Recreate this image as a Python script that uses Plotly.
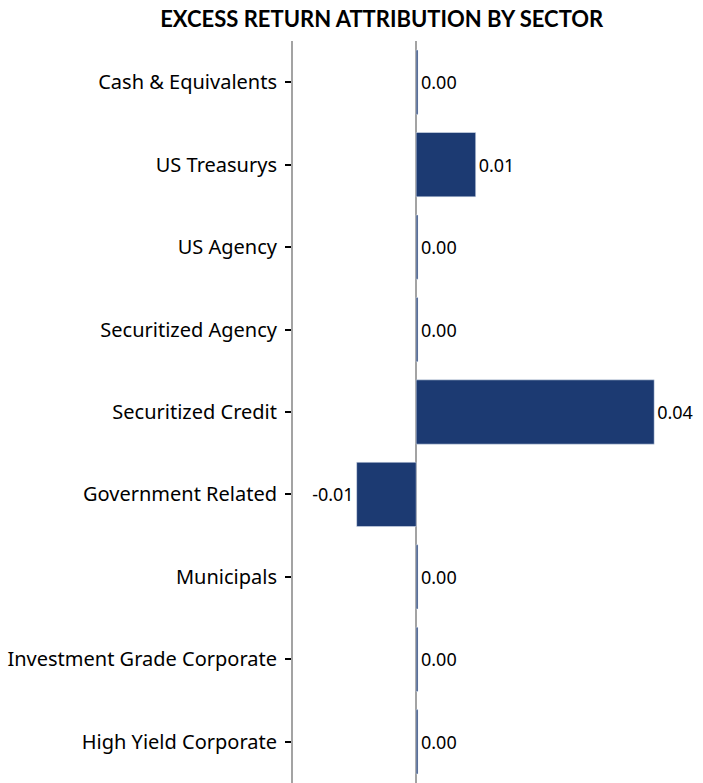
import plotly.graph_objects as go

# Sector excess-return attribution (percentage points)
sectors = [
    "Cash & Equivalents",
    "US Treasurys",
    "US Agency",
    "Securitized Agency",
    "Securitized Credit",
    "Government Related",
    "Municipals",
    "Investment Grade Corporate",
    "High Yield Corporate",
]
excess_return = [0.0003, 0.01, 0.0003, 0.0003, 0.04, -0.01, 0.0003, 0.0003, 0.0003]

BAR_COLOR = "#1c3a72"
AXIS_GRAY = "#a3a3a3"
TEXT_FONT = "Noto Sans, sans-serif"

fig = go.Figure(
    go.Bar(
        x=excess_return,
        y=sectors,
        orientation="h",
        marker=dict(color=BAR_COLOR),
        texttemplate="%{x:.2f}",
        textposition="outside",
        constraintext="none",
        textfont=dict(family=TEXT_FONT, size=18, color="#000000"),
        cliponaxis=False,
    )
)

fig.update_layout(
    width=703,
    height=783,
    margin=dict(l=293, r=0, t=41, b=0),
    paper_bgcolor="white",
    plot_bgcolor="white",
    bargap=0.22,
    showlegend=False,
    title=dict(
        text="<b>EXCESS RETURN ATTRIBUTION BY SECTOR</b>",
        x=0.543,
        xanchor="center",
        y=0.985,
        yanchor="top",
        font=dict(family="Lato, sans-serif", size=22, color="#000000", weight=900),
    ),
    xaxis=dict(
        range=[-0.0207, 0.0482],
        showticklabels=False,
        showgrid=False,
        ticks="",
        zeroline=True,
        zerolinecolor=AXIS_GRAY,
        zerolinewidth=2,
    ),
    yaxis=dict(
        autorange="reversed",
        showgrid=False,
        showline=True,
        linecolor=AXIS_GRAY,
        linewidth=2,
        ticks="outside",
        ticklen=6,
        tickwidth=1.5,
        tickcolor="#000000",
        ticklabelstandoff=4,
        tickfont=dict(family=TEXT_FONT, size=20, color="#000000"),
    ),
)

fig.write_html("out.html")
